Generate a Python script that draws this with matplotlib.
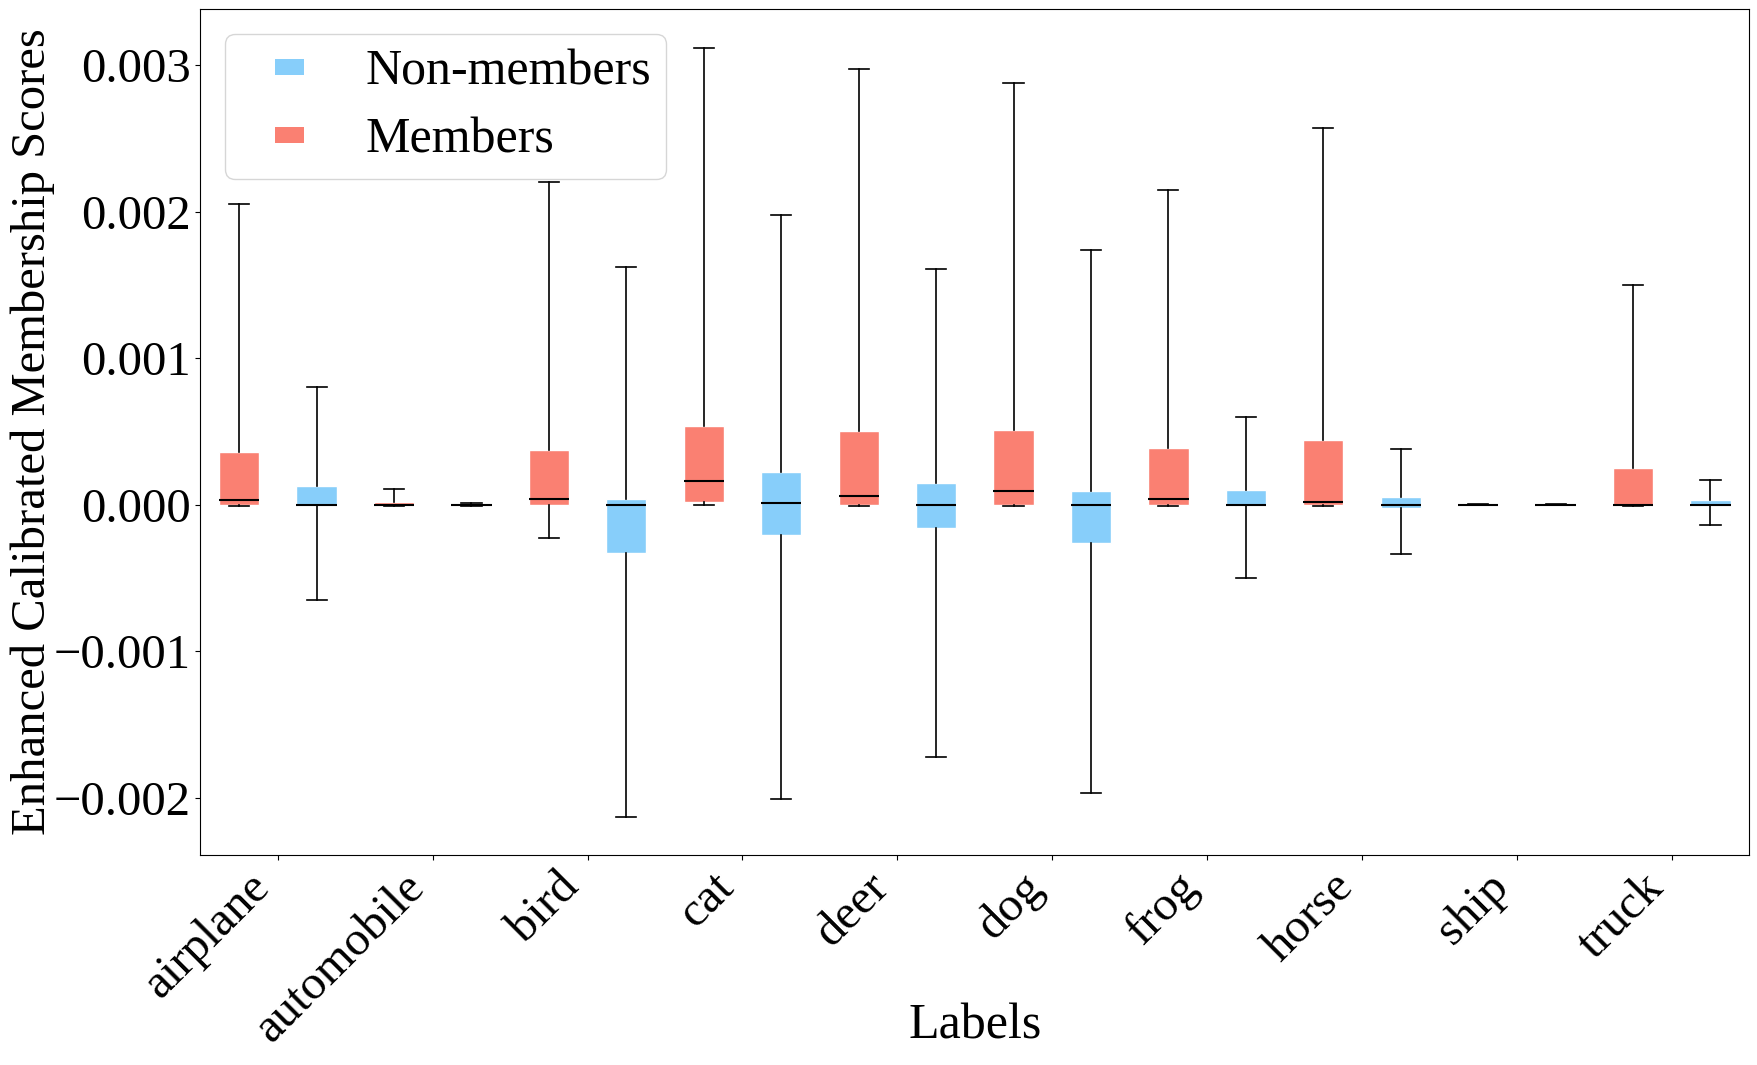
import numpy as np
import matplotlib.pyplot as plt
from matplotlib.patches import Patch, Rectangle
from matplotlib.legend_handler import HandlerPatch

labels = ['airplane', 'automobile', 'bird', 'cat', 'deer',
          'dog', 'frog', 'horse', 'ship', 'truck']

# members (red)
mem_whislo = [-0.00001, -0.00001, -0.00023, 0.0, -0.00001, -0.00001, -0.00001, -0.00001, -0.000003, -0.00001]
mem_q1     = [0.0, -0.000003, 0.0, 0.00002, 0.0, 0.0, 0.0, 0.0, -0.000002, 0.0]
mem_med    = [0.00003, 0.0, 0.00004, 0.00016, 0.00006, 0.00009, 0.00004, 0.00002, 0.0, 0.0]
mem_q3     = [0.00036, 0.000015, 0.000375, 0.00054, 0.0005, 0.00051, 0.00039, 0.00044, 0.000003, 0.00025]
mem_whishi = [0.00205, 0.000107, 0.0022, 0.00312, 0.00297, 0.00288, 0.00215, 0.00257, 0.000005, 0.0015]

# non-members (blue)
non_whislo = [-0.00065, -0.00001, -0.00213, -0.00201, -0.00172, -0.00197, -0.0005, -0.00034, -0.000004, -0.00014]
non_q1     = [0.0, -0.000003, -0.00033, -0.00021, -0.00016, -0.00026, 0.0, -0.00002, -0.000002, -0.00001]
non_med    = [0.0, 0.0, 0.0, 0.00001, 0.0, 0.0, 0.0, 0.0, 0.0, 0.0]
non_q3     = [0.00013, 0.000003, 0.00004, 0.00022, 0.00015, 0.00009, 0.0001, 0.00005, 0.000002, 0.00003]
non_whishi = [0.0008, 0.00001, 0.00162, 0.00198, 0.00161, 0.00174, 0.0006, 0.00038, 0.000004, 0.00017]

plt.rcParams['font.family'] = ['Liberation Serif', 'DejaVu Serif']
plt.rcParams['font.size'] = 36

fig = plt.figure(figsize=(17.58, 10.65), dpi=100)
ax = fig.add_axes([0.114, 0.197, 0.881, 0.7945])

def stats(lo, q1, med, q3, hi):
    return [dict(whislo=a, q1=b, med=c, q3=d, whishi=e, fliers=[])
            for a, b, c, d, e in zip(lo, q1, med, q3, hi)]

x = np.arange(len(labels))
for st, pos, col in [(stats(mem_whislo, mem_q1, mem_med, mem_q3, mem_whishi), x - 0.25, 'salmon'),
                     (stats(non_whislo, non_q1, non_med, non_q3, non_whishi), x + 0.25, 'lightskyblue')]:
    ax.bxp(st, positions=pos, widths=0.26, patch_artist=True, showfliers=False,
           boxprops=dict(facecolor=col, edgecolor='white', linewidth=1),
           medianprops=dict(color='black', linewidth=1.5),
           whiskerprops=dict(color='black', linewidth=1.2),
           capprops=dict(color='black', linewidth=1.2))

ax.set_xlim(-0.5, 9.5)
ax.set_xticks(x)
ax.set_xticklabels(labels, rotation=45, ha='right')
ax.tick_params(axis='both', labelsize=35)
ax.set_yticks([-0.002, -0.001, 0.0, 0.001, 0.002, 0.003])
ax.set_yticklabels(['\u22120.002', '\u22120.001', '0.000', '0.001', '0.002', '0.003'])
ax.set_xlabel('Labels', fontsize=36)
ax.set_ylabel('Enhanced Calibrated Membership Scores', fontsize=35)
ax.xaxis.set_label_coords(0.5, -0.175)
ax.yaxis.set_label_coords(-0.094, 0.5)


def small_box(legend, orig_handle, xdescent, ydescent, width, height, fontsize):
    w = 0.58 * fontsize
    h = 0.31 * fontsize
    return Rectangle((0.7 * fontsize - xdescent, height / 2 - h / 2 - ydescent), w, h)


handles = [Patch(facecolor='lightskyblue', label='Non-members'),
           Patch(facecolor='salmon', label='Members')]
ax.legend(handles=handles, loc='upper left', fontsize=36, handlelength=1.3,
          handletextpad=1.2, borderpad=0.3, labelspacing=0.43,
          handler_map={Patch: HandlerPatch(patch_func=small_box)})

fig.savefig('out.png', dpi=100)
